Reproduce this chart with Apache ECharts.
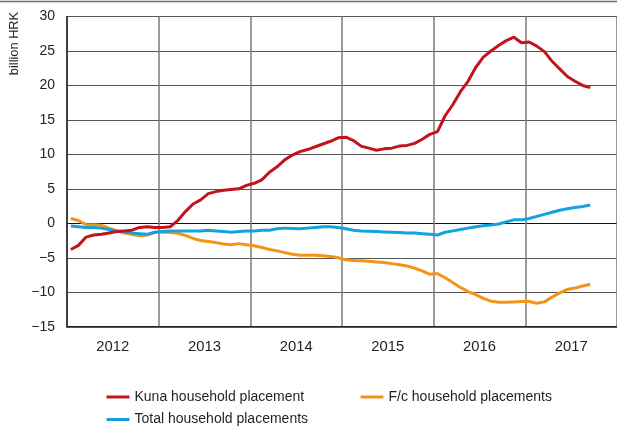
<!DOCTYPE html>
<html>
<head>
<meta charset="utf-8">
<script src="https://cdn.jsdelivr.net/npm/echarts@6/dist/echarts.min.js"></script>
<style>
  html, body { margin: 0; padding: 0; background: #fff; }
  #chart { width: 617px; height: 432px; }
</style>
</head>
<body>
<div id="chart"></div>
<script>
// Monthly observations, January 2012 onwards (annual changes, billion HRK)
const years = ['2012', '2013', '2014', '2015', '2016', '2017'];

const kunaPlacements = [
  -3.8, -3.2, -2.0, -1.7, -1.6, -1.4, -1.2, -1.1, -1.0, -0.6, -0.5, -0.6,
  -0.6, -0.5, 0.4, 1.7, 2.8, 3.4, 4.3, 4.6, 4.8, 4.9, 5.0, 5.5,
  5.8, 6.3, 7.4, 8.2, 9.2, 9.9, 10.4, 10.7, 11.1, 11.5, 11.9, 12.4,
  12.5, 12.0, 11.2, 10.9, 10.6, 10.8, 10.9, 11.2, 11.3, 11.6, 12.2, 12.9,
  13.3, 15.6, 17.2, 19.1, 20.6, 22.6, 24.1, 25.0, 25.8, 26.5, 27.0, 26.2,
  26.3, 25.7, 24.9, 23.5, 22.4, 21.3, 20.6, 20.0, 19.7
];

const fcPlacements = [
  0.7, 0.4, -0.2, -0.2, -0.3, -0.7, -1.1, -1.4, -1.6, -1.8, -1.7, -1.3,
  -1.3, -1.35, -1.45, -1.75, -2.2, -2.5, -2.65, -2.8, -3.0, -3.1, -2.95, -3.1,
  -3.25, -3.5, -3.8, -4.0, -4.25, -4.5, -4.65, -4.65, -4.65, -4.7, -4.8, -5.0,
  -5.3, -5.4, -5.45, -5.5, -5.6, -5.7, -5.85, -6.0, -6.2, -6.5, -6.9, -7.4,
  -7.3, -7.9, -8.6, -9.3, -9.9, -10.35, -10.9, -11.3, -11.45, -11.45, -11.4, -11.35,
  -11.35, -11.6, -11.4, -10.7, -10.1, -9.6, -9.4, -9.1, -8.85
];

const totalPlacements = [
  -0.4, -0.5, -0.6, -0.6, -0.7, -0.9, -1.1, -1.2, -1.4, -1.5, -1.6, -1.3,
  -1.2, -1.1, -1.1, -1.1, -1.1, -1.1, -1.0, -1.1, -1.2, -1.3, -1.2, -1.1,
  -1.1, -1.0, -1.0, -0.8, -0.7, -0.75, -0.8, -0.7, -0.6, -0.5, -0.5, -0.6,
  -0.8, -1.0, -1.1, -1.15, -1.2, -1.25, -1.3, -1.35, -1.4, -1.4, -1.5, -1.6,
  -1.7, -1.3, -1.1, -0.9, -0.7, -0.5, -0.35, -0.25, -0.1, 0.2, 0.5, 0.5,
  0.7, 1.0, 1.3, 1.6, 1.9, 2.1, 2.3, 2.45, 2.65
];

const yTicks = { min: -15, max: 30, step: 5 };

// one category per month across the whole year span
const months = [];
years.forEach(y => { for (let m = 1; m <= 12; m++) months.push(y + '-' + String(m).padStart(2, '0')); });

const FONT = "'Liberation Sans', Arial, sans-serif";
const TXT = '#231f20';
const RED = '#c1141d';
const ORANGE = '#f39419';
const BLUE = '#13a2dd';

const chart = echarts.init(document.getElementById('chart'), null, { renderer: 'canvas' });

const legendBase = {
  icon: 'rect',
  itemWidth: 23,
  itemHeight: 3,
  textStyle: { fontFamily: FONT, fontSize: 14, color: TXT },
  padding: 0,
  selectedMode: false
};

chart.setOption({
  animation: false,
  backgroundColor: '#fff',
  grid: { left: 67, right: 0, top: 16.5, bottom: 105.3, containLabel: false },
  graphic: [
    {
      type: 'line',
      shape: { x1: 0, y1: 1.5, x2: 617, y2: 1.5 },
      style: { stroke: '#6d6d6d', lineWidth: 1.5 }
    },
    {
      type: 'text',
      x: 14.5, y: 43.5,
      rotation: Math.PI / 2,
      style: {
        text: 'billion HRK',
        font: '12.8px ' + FONT,
        fill: TXT,
        align: 'center',
        verticalAlign: 'middle'
      }
    }
  ],
  legend: [
    Object.assign({}, legendBase, { data: ['Kuna household placement'], left: 106.5, top: 390 }),
    Object.assign({}, legendBase, { data: ['F/c household placements'], left: 360.5, top: 390 }),
    Object.assign({}, legendBase, { data: ['Total household placements'], left: 106.5, top: 412.5 })
  ],
  xAxis: [
    {
      type: 'category',
      data: months,
      boundaryGap: true,
      show: false
    },
    {
      type: 'category',
      data: years,
      boundaryGap: true,
      position: 'bottom',
      axisLine: { show: true, onZero: false, lineStyle: { color: '#222', width: 1.5 } },
      axisTick: { show: false },
      axisLabel: { interval: 0, margin: 13, fontFamily: FONT, fontSize: 14.8, color: TXT },
      splitLine: { show: true, interval: 0, lineStyle: { color: '#7a7a7a', width: 1.5 } }
    }
  ],
  yAxis: {
    type: 'value',
    min: yTicks.min,
    max: yTicks.max,
    interval: yTicks.step,
    axisLine: { show: true, lineStyle: { color: '#222', width: 1.5 } },
    axisTick: { show: false },
    axisLabel: {
      margin: 12,
      fontFamily: FONT,
      fontSize: 14,
      color: TXT,
      formatter: v => String(v).replace('-', '\u2212')
    },
    splitLine: {
      show: true,
      lineStyle: {
        // -15, -10, -5, 0, 5, 10, 15, 20, 25, 30 — the zero line is darker
        color: ['#222', '#555', '#555', '#111', '#555', '#555', '#555', '#555', '#555', '#555'],
        width: 1.2
      }
    }
  },
  series: [
    {
      name: 'F/c household placements',
      type: 'line',
      xAxisIndex: 0,
      data: fcPlacements,
      showSymbol: false,
      lineStyle: { color: ORANGE, width: 3 },
      itemStyle: { color: ORANGE },
      z: 3
    },
    {
      name: 'Total household placements',
      type: 'line',
      xAxisIndex: 0,
      data: totalPlacements,
      showSymbol: false,
      lineStyle: { color: BLUE, width: 3 },
      itemStyle: { color: BLUE },
      z: 4
    },
    {
      name: 'Kuna household placement',
      type: 'line',
      xAxisIndex: 0,
      data: kunaPlacements,
      showSymbol: false,
      lineStyle: { color: RED, width: 3 },
      itemStyle: { color: RED },
      z: 5
    }
  ]
});
</script>
</body>
</html>
